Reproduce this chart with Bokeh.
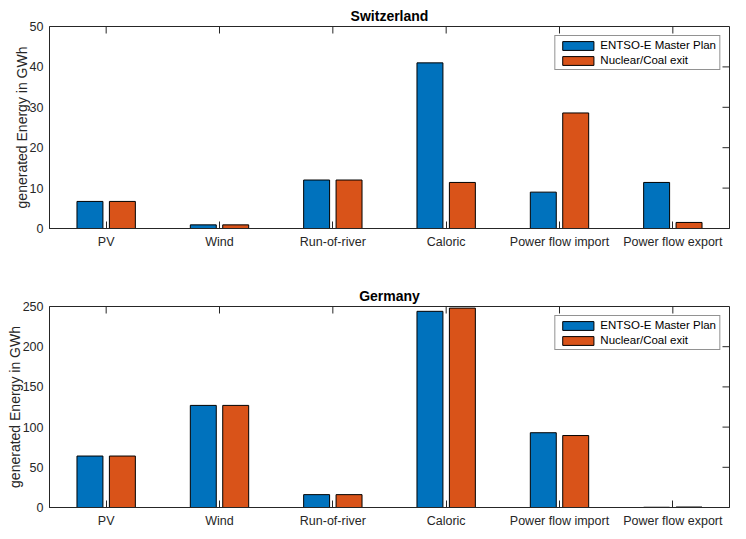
import math
from bokeh.plotting import figure
from bokeh.models import Range1d, FactorRange, FixedTicker, Legend, LegendItem, ColumnDataSource
from bokeh.transform import dodge
from bokeh.layouts import column
from bokeh.embed import file_html
from bokeh.resources import INLINE

categories = ["PV", "Wind", "Run-of-river", "Caloric", "Power flow import", "Power flow export"]
series_names = ["ENTSO-E Master Plan", "Nuclear/Coal exit"]
ch_master = [6.7, 0.9, 12.0, 41.0, 9.0, 11.4]
ch_exit = [6.7, 0.9, 12.0, 11.4, 28.6, 1.5]
de_master = [64.0, 127.0, 16.0, 244.0, 93.0, 0.3]
de_exit = [64.0, 127.0, 16.0, 248.0, 89.5, 0.6]
ch_ticks = [0, 10, 20, 30, 40, 50]
de_ticks = [0, 50, 100, 150, 200, 250]

BLUE = "#0072BD"
ORANGE = "#D95319"
AX = "#262626"
FONT = "Liberation Sans"


def make_fig(title, master, exitv, ticks, height, border_top, border_bottom):
    src = ColumnDataSource(dict(cat=categories, master=master, exitv=exitv))
    p = figure(x_range=FactorRange(factors=categories, range_padding=0),
               y_range=Range1d(0, ticks[-1]), width=730, height=height,
               output_backend="svg", toolbar_location=None, title=title,
               min_border_left=49, min_border_right=1,
               min_border_top=border_top, min_border_bottom=border_bottom)
    p.grid.visible = False
    p.outline_line_color = AX
    p.outline_line_width = 1
    p.background_fill_color = "white"

    r1 = p.vbar(x=dodge("cat", -0.143, range=p.x_range), top="master", width=0.229,
                source=src, fill_color=BLUE, line_color="black", line_width=1)
    r2 = p.vbar(x=dodge("cat", 0.143, range=p.x_range), top="exitv", width=0.229,
                source=src, fill_color=ORANGE, line_color="black", line_width=1)

    # inward ticks on the top and right sides of the box
    n = len(categories)
    p.ray(x=categories, y=[ticks[-1]] * n, length=7, length_units="screen",
          angle=-math.pi / 2, line_color=AX, line_width=1)
    p.ray(x=[float(n)] * len(ticks), y=ticks, length=7, length_units="screen",
          angle=math.pi, line_color=AX, line_width=1)

    # title
    p.title.text_font = FONT
    p.title.text_font_size = "14px"
    p.title.text_font_style = "bold"
    p.title.align = "center"
    p.title.text_color = "black"
    p.title.standoff = 6

    # bottom x axis
    xa = p.xaxis[0]
    xa.axis_line_color = AX
    xa.major_tick_line_color = AX
    xa.major_tick_in = 7
    xa.major_tick_out = 0
    xa.major_label_text_font = FONT
    xa.major_label_text_font_size = "12.5px"
    xa.major_label_text_color = AX
    xa.major_label_standoff = 6

    # left y axis
    ya = p.yaxis[0]
    ya.ticker = FixedTicker(ticks=ticks)
    ya.axis_line_color = AX
    ya.major_tick_in = 0
    ya.major_tick_out = 0
    ya.minor_tick_in = 0
    ya.minor_tick_out = 0
    ya.major_label_text_font = FONT
    ya.major_label_text_font_size = "12.5px"
    ya.major_label_text_color = AX
    ya.major_label_standoff = 6
    ya.axis_label = "generated Energy in GWh"
    ya.axis_label_text_font = FONT
    ya.axis_label_text_font_size = "14px"
    ya.axis_label_text_font_style = "normal"
    ya.axis_label_text_color = AX
    ya.axis_label_standoff = -3

    legend = Legend(items=[LegendItem(label=series_names[0], renderers=[r1]),
                           LegendItem(label=series_names[1], renderers=[r2])],
                    location="top_right")
    legend.label_text_font = FONT
    legend.label_text_font_size = "11.5px"
    legend.label_text_color = "black"
    legend.glyph_width = 39
    legend.glyph_height = 11
    legend.label_height = 12
    legend.spacing = 3
    legend.padding = 3
    legend.label_standoff = 3
    legend.border_line_color = AX
    legend.border_line_width = 1
    legend.margin = 9
    legend.background_fill_alpha = 1
    p.add_layout(legend)
    return p


p1 = make_fig("Switzerland", ch_master, ch_exit, ch_ticks, 282, 26, 54)
p2 = make_fig("Germany", de_master, de_exit, de_ticks, 248, 24, 22)
layout = column(p1, p2, spacing=0)

open("out.html", "w").write(file_html(layout, INLINE))
